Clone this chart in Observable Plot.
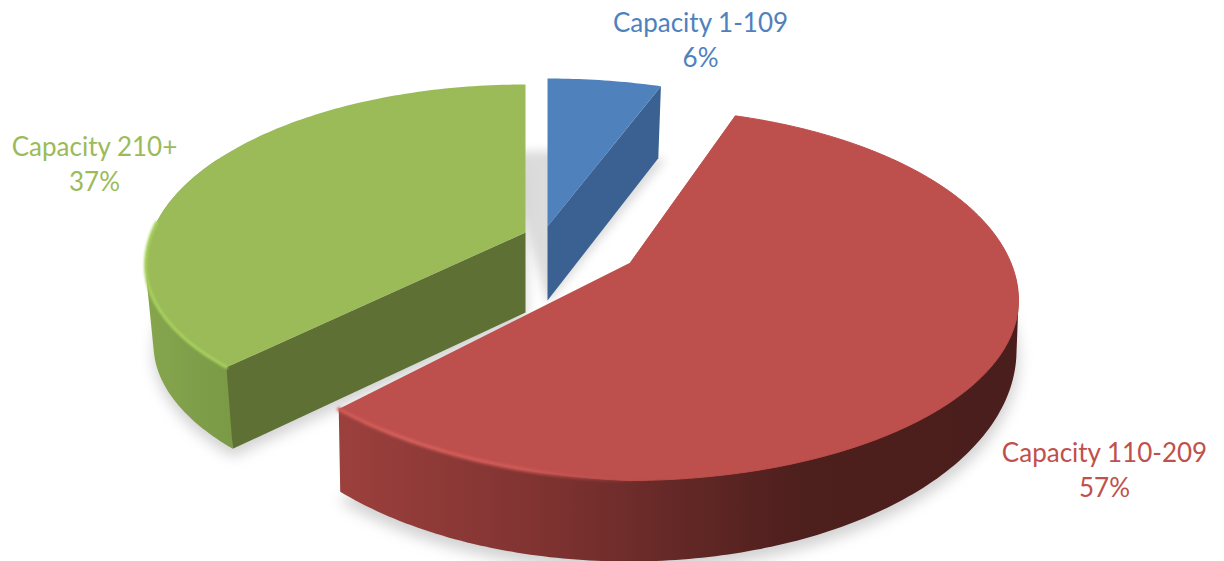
<!DOCTYPE html>
<html><head><meta charset="utf-8">
<style>html,body{margin:0;padding:0;background:#fff}svg{display:block}</style>
<script src="https://cdn.jsdelivr.net/npm/d3@7"></script>
<script src="https://cdn.jsdelivr.net/npm/@observablehq/plot@0.6"></script>
</head><body>
<script>
const categories = ["Capacity 1-109", "Capacity 110-209", "Capacity 210+"];
const shares = [6, 57, 37];
const percentLabels = ["6%", "57%", "37%"];

// Layout of the exploded, tilted pie (pixels on the identity scales)
const W = 1224, H = 561;
const rad = Math.PI / 180;
const views = [
  {name:"blue", warp:[12,0], apexTop:[547,226], apexBot:[547,300],
   top:{cx:547,cy:253,a:384,bu:175,bl:175,skew:0}, bot:{cx:547,cy:325,a:375,bu:175,bl:175,skew:0}},
  {name:"red", warp:[7.5,-4.29], apexTop:[630,262], apexBot:[630,340],
   top:{cx:628,cy:300,a:390,bu:192,bl:180,skew:16}, bot:{cx:628,cy:350,a:388,bu:211,bl:211,skew:0}},
  {name:"green", warp:[7,0], apexTop:[525,232], apexBot:[525,312],
   top:{cx:525,cy:265,a:380,bu:181,bl:165,skew:0}, bot:{cx:525,cy:344,a:372,bu:181,bl:169,skew:0}}
];
const topColors = ["#4f81bd", "#bd4f4c", "#9bbb59"];
const wallColors = ["#3a6191", null, "#5e7033"];
const labelPos = [[700,22],[1104,452],[94,146]];
const labelColors = ["#4f81bd", "#c0504d", "#9bbb59"];

let acc = 0;
const sweeps = shares.map(s => { const r = [acc*3.6, (acc+s)*3.6]; acc += s; return r; });

function rimPoint(e, warp, t){
  const p = (t - warp[0]*Math.sin(t*rad) + warp[1]*Math.sin(2*t*rad)) * rad;
  const s = Math.sin(p), c = Math.cos(p);
  return {x: e.cx + e.a*s, y: e.cy - (c > 0 ? e.bu : e.bl)*c + (s < 0 ? e.skew*s : 0)};
}
function arc(e, warp, t0, t1){
  const out = [], n = Math.max(4, Math.ceil(Math.abs(t1-t0)));
  for (let i=0;i<=n;i++) out.push(rimPoint(e, warp, t0+(t1-t0)*i/n));
  return out;
}
const pt = a => ({x:a[0], y:a[1]});
const face = i => [pt(views[i].apexTop), ...arc(views[i].top, views[i].warp, ...sweeps[i])];
const side = (i,t0,t1) => [...arc(views[i].top, views[i].warp, t0, t1), ...arc(views[i].bot, views[i].warp, t0, t1)];
const wall = (i,t) => [pt(views[i].apexTop), rimPoint(views[i].top, views[i].warp, t), rimPoint(views[i].bot, views[i].warp, t), pt(views[i].apexBot)];
const shadow = (i,t0,t1,s,dy) => {
  const v = views[i], e = {...v.bot, a:v.bot.a*s, bu:v.bot.bu*s, bl:v.bot.bl*s, cy:v.bot.cy+dy};
  return [{x:v.apexBot[0], y:v.apexBot[1]+dy}, ...arc(e, v.warp, t0, t1)];
};
const poly = (pts, o) => Plot.line(pts, {x:"x", y:"y", stroke:"none", ...o});

const defs = () => {
  const s = d3.create("svg:defs");
  const g = (id, stops) => {
    const l = s.append("linearGradient").attr("id", id);
    stops.forEach(([o,c,a]) => l.append("stop").attr("offset", o).attr("stop-color", c).attr("stop-opacity", a ?? 1));
  };
  g("redSide", [[0,"#9c403d"],[0.3,"#7f3331"],[0.5,"#642826"],[0.68,"#4d1f1d"],[1,"#4a1e1c"]]);
  g("greenSide", [[0,"#86a64d"],[0.5,"#7f9f4a"],[1,"#7a9a46"]]);
  g("redGlow", [[0,"#cf5c58"],[0.2,"#d9625e"],[0.6,"#d25c58"],[1,"#bd4f4c",0]]);
  return s.node();
};

const labels = categories.map((c,i) => ({text:c+"\n"+percentLabels[i], x:labelPos[i][0], y:labelPos[i][1]+17, color:labelColors[i]}));

const plot = Plot.plot({
  width:W, height:H, margin:0,
  x:{domain:[0,W], range:[0,W], axis:null},
  y:{domain:[0,H], range:[0,H], axis:null},
  marks:[
    defs,
    // soft shadows under the footprint
    poly(shadow(0,-8,sweeps[0][1]+1,1.02,4), {fill:"#dcdcdc", imageFilter:"blur(5px)"}),
    poly(shadow(2,...sweeps[2],1.0,8), {fill:"#d2d2d2", imageFilter:"blur(7px)"}),
    poly(shadow(1,...sweeps[1],1.005,8), {fill:"#d2d2d2", imageFilter:"blur(7px)"}),
    // green slice
    Plot.hull(side(2,sweeps[2][0],300), {x:"x", y:"y", stroke:"none", fill:"url(#greenSide)"}),
    poly(wall(2,sweeps[2][0]), {fill:wallColors[2]}),
    poly(face(2), {fill:topColors[2]}),
    Plot.line(arc(views[2].top, views[2].warp, sweeps[2][0], sweeps[2][0]+50), {x:"x",y:"y",stroke:"#a9d25f",strokeWidth:3,imageFilter:"blur(1px)"}),
    // blue slice
    poly(wall(0,sweeps[0][1]), {fill:wallColors[0]}),
    poly(face(0), {fill:topColors[0]}),
    // red slice
    Plot.hull(side(1,90,sweeps[1][1]), {x:"x", y:"y", stroke:"none", fill:"url(#redSide)"}),
    poly(face(1), {fill:topColors[1], stroke:"#bd4f4c", strokeWidth:1, imageFilter:"blur(0.6px)"}),
    Plot.line(arc(views[1].top, views[1].warp, sweeps[1][1]-50, sweeps[1][1]), {x:"x",y:"y",stroke:"url(#redGlow)",strokeWidth:3.5,imageFilter:"blur(1.5px)"}),
    // labels
    Plot.text(labels, {x:"x", y:d => d.y - 1, text:"text", fill:"color", fontSize:26, lineHeight:1.33, lineAnchor:"middle", textAnchor:"middle", fontFamily:"Lato"})
  ]
});
document.body.appendChild(plot);
</script>
</body></html>
